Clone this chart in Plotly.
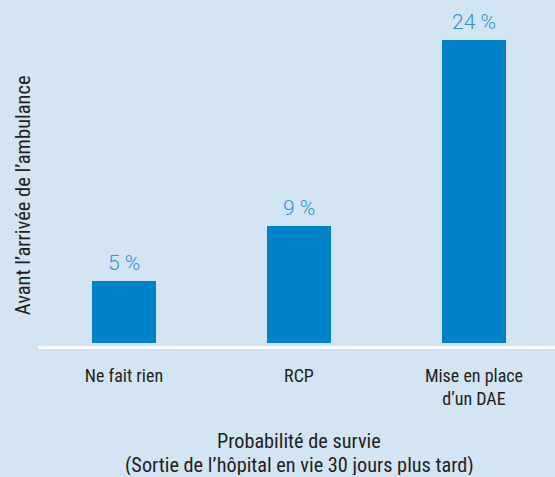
import plotly.graph_objects as go

categories = ["Ne fait rien", "RCP", "Mise en place<br>d’un DAE"]
values = [4.9, 9.25, 24]
value_labels = ["5 %", "9 %", "24 %"]
y_title = "Avant l’arrivée de l’ambulance"
x_title_lines = ["Probabilité de survie", "(Sortie de l’hôpital en vie 30 jours plus tard)"]

BG = "#d3e4f3"
BAR = "#0082c8"
LBL = "#2a93d5"
DARK = "#231f20"
NARROW = "Roboto Condensed, Liberation Sans Narrow, sans-serif"

xs = list(range(len(categories)))
fig = go.Figure()
fig.add_trace(go.Bar(x=xs, y=values, marker=dict(color=BAR, line=dict(width=0)),
                     width=0.366, hoverinfo="skip"))

for x, v, t in zip(xs, values, value_labels):
    fig.add_annotation(x=x, y=v, text=t, showarrow=False, yanchor="bottom", yshift=4,
                       font=dict(family="Roboto", size=21, color=LBL, weight=300))

for yy, line in zip([-0.276, -0.343], x_title_lines):
    fig.add_annotation(xref="paper", yref="paper", x=0.505, y=yy, yanchor="middle",
                       height=20, valign="middle",
                       text=line, showarrow=False,
                       font=dict(family=NARROW, size=20.3, color=DARK))
fig.add_annotation(xref="paper", yref="paper", x=-0.029, y=0.436, textangle=-90,
                   xanchor="center", yanchor="middle",
                   text=y_title, showarrow=False,
                   font=dict(family=NARROW, size=20.5, color=DARK))

fig.update_layout(
    width=555, height=477,
    margin=dict(l=38, r=0, t=0, b=131),
    paper_bgcolor=BG, plot_bgcolor=BG,
    showlegend=False,
    bargap=0,
    xaxis=dict(range=[-0.491, 2.463], tickvals=xs, ticktext=categories,
               showgrid=False, zeroline=False, showline=True, linecolor="white", linewidth=3,
               ticks="outside", ticklen=11, tickcolor="rgba(0,0,0,0)",
               tickfont=dict(family=NARROW, size=18, color=DARK)),
    yaxis=dict(range=[-0.24, 27.2], showgrid=False, zeroline=False, showticklabels=False,
               showline=False),
)
fig.write_html("out.html", config={"displayModeBar": False},
               post_script="document.body.style.margin='0';")
